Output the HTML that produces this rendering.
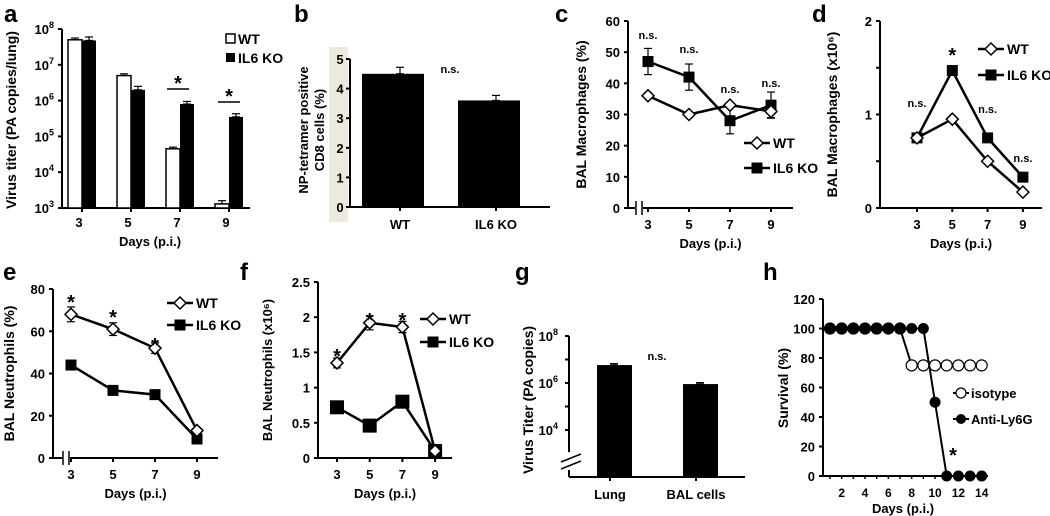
<!DOCTYPE html>
<html><head><meta charset="utf-8">
<style>
html,body{margin:0;padding:0;background:#fff;}
svg{display:block;font-family:"Liberation Sans",Arial,sans-serif;font-weight:bold;}
</style></head>
<body>
<svg id="fig" width="1050" height="516" viewBox="0 0 1050 516" xmlns="http://www.w3.org/2000/svg"></svg>
<script>
// ---- data ----
const daysA = [3,5,7,9];
const aWT = [5e7,5e6,4.5e4,1.3e3];
const aKO = [4.8e7,2e6,8e5,3.5e5];
const aWTerr = [0.6e7,0.6e6,0.5e4,0.3e3];
const aKOerr = [1.2e7,0.5e6,1.5e5,0.8e5];
const bCats = ["WT","IL6 KO"];
const bVals = [4.5,3.6];
const bErr = [0.22,0.17];
const cWT = [36,30,33,31];
const cKO = [47,42,28,33];
const cWTerr = [0,0,0,2];
const cKOerr = [4.2,4.2,4.2,4.2];
const dWT = [0.75,0.95,0.5,0.17];
const dKO = [0.75,1.47,0.75,0.33];
const eWT = [68,61,52,13];
const eKO = [44,32,30,9];
const eWTerr = [3.5,3,2.5,0];
const fWT = [1.35,1.92,1.86,0.1];
const fKO = [0.72,0.46,0.8,0.1];
const fWTerr = [0.07,0.1,0.08,0];
const gCats = ["Lung","BAL cells"];
const gVals = [5.8e6,9e5];
const hDays = [1,2,3,4,5,6,7,8,9,10,11,12,13,14];
const hIso = [100,100,100,100,100,100,100,75,75,75,75,75,75,75];
const hAnti = [100,100,100,100,100,100,100,100,100,50,0,0,0,0];
const hTicks = [2,4,6,8,10,12,14];

const S = document.getElementById('fig');
const NS = 'http://www.w3.org/2000/svg';
function el(tag, attrs, parent, text){
  const e = document.createElementNS(NS, tag);
  for (const k in attrs) e.setAttribute(k, attrs[k]);
  if (text !== undefined) e.textContent = text;
  (parent || S).appendChild(e);
  return e;
}
function grp(name){
  const g = el('g', {});
  
  
  return g;
}
function line(g,x1,y1,x2,y2,w){ return el('line',{x1,y1,x2,y2,stroke:'#000','stroke-width':w||2},g); }
function txt(g,x,y,s,size,anchor,extra){
  const t = el('text',Object.assign({x,y,'font-size':size||13,'text-anchor':anchor||'middle',fill:'#000'},extra||{}),g,s);
  return t;
}
function vtitle(g,x,y,s,size){
  return txt(g,x,y,s,size||13,'middle',{transform:`rotate(-90 ${x} ${y})`});
}
function letter(x,y,s){
  const g = grp('panel-label-'+s);
  txt(g,x,y,s,24,'start');
}
function diamond(g,x,y,r){ return el('polygon',{points:`${x},${y-r} ${x+r},${y} ${x},${y+r} ${x-r},${y}`,fill:'#fff',stroke:'#000','stroke-width':1.5},g); }
function square(g,x,y,r){ return el('rect',{x:x-r,y:y-r,width:2*r,height:2*r,fill:'#000'},g); }
function errbar(g,x,y1,y2){ line(g,x,y1,x,y2,1.2); line(g,x-4,y1,x+4,y1,1.2); line(g,x-4,y2,x+4,y2,1.2); }

// ---- panel a ----
(function(){
  const g = grp('panel-a');
  const x0=62, yTop=29, yBot=208, dec=(yBot-yTop)/5;
  const ys = v => yBot - (Math.log10(v)-3)*dec;
  const xs = i => 82 + i*49;
  line(g,x0,yTop,x0,yBot); line(g,x0,yBot,250,yBot);
  for(let p=3;p<=8;p++){
    const y=ys(Math.pow(10,p)); line(g,x0-4,y,x0,y);
    const t=txt(g,54,y+5,'10',13,'end');
    el('tspan',{dy:-6,'font-size':9},t,String(p));
  }
  daysA.forEach((d,i)=>{
    const c=xs(i);
    line(g,c,yBot,c,yBot+4);
    txt(g,c-3,227,String(d),13);
    const yw=ys(aWT[i]), yk=ys(aKO[i]);
    errbar(g,c-7,ys(aWT[i]+aWTerr[i]),yw);
    errbar(g,c+7,ys(aKO[i]+aKOerr[i]),yk);
    const b1=el('rect',{x:c-14,y:yw,width:14,height:yBot-yw,fill:'#fff',stroke:'#000','stroke-width':1.5},g);
    
    
    const b2=el('rect',{x:c,y:yk,width:14,height:yBot-yk,fill:'#000'},g);
    
    
  });
  line(g,167,89,189,89,1.5); txt(g,178,90,'*',20);
  line(g,218,102,240,102,1.5); txt(g,229,103,'*',20);
  txt(g,150,246,'Days (p.i.)',13);
  vtitle(g,16,120,'Virus titer (PA copies/lung)',14);
  el('rect',{x:226,y:34,width:9,height:9,fill:'#fff',stroke:'#000','stroke-width':1.5},g);
  txt(g,238,44,'WT',14,'start');
  el('rect',{x:226,y:53,width:9,height:9,fill:'#000'},g);
  txt(g,238,63,'IL6 KO',14,'start');
})();
letter(4,22,'a');

// ---- panel b ----
(function(){
  const g = grp('panel-b');
  const x0=350, yBot=207, per=29.6;
  const ys=v=>yBot-v*per;
  el('rect',{x:329,y:47,width:19,height:175,fill:'#ede9df'},g);
  line(g,x0,ys(5),x0,yBot); line(g,x0,yBot,550,yBot);
  for(let v=0;v<=5;v++){ line(g,x0-4,ys(v),x0,ys(v)); txt(g,340,ys(v)+5,String(v),13); }
  const cx=[392,488];
  bCats.forEach((c,i)=>{
    line(g,cx[i]+8,yBot,cx[i]+8,yBot+4);
    txt(g,cx[i]+8,229,c,13);
    errbar(g,cx[i]+8,ys(bVals[i]+bErr[i]),ys(bVals[i]));
    const r=el('rect',{x:cx[i]-30,y:ys(bVals[i]),width:62,height:bVals[i]*per,fill:'#000'},g);
    
    
  });
  txt(g,450,73,'n.s.',11);
  vtitle(g,308,130,'NP-tetramer positive',13);
  vtitle(g,324,130,'CD8 cells (%)',13);
})();
letter(294,22,'b');

// generic line panel
function linePanel(o){
  const g=grp(o.name);
  const ys=v=>o.yBot-(v-o.yMin)/(o.yMax-o.yMin)*(o.yBot-o.yTop);
  const xs=i=>o.x3+i*o.dx;
  line(g,o.x0,o.yTop,o.x0,o.yBot); line(g,o.x0,o.yBot,o.xEnd,o.yBot);
  if(o.brk){ el('rect',{x:o.brk-1,y:o.yBot-6,width:8,height:12,fill:'#fff'},g); line(g,o.brk,o.yBot-7,o.brk,o.yBot+7,1.5); line(g,o.brk+6,o.yBot-7,o.brk+6,o.yBot+7,1.5); }
  o.ticks.forEach(v=>{ line(g,o.x0-4,ys(v),o.x0,ys(v)); if(o.labels!==false || true){} });
  o.tickLabels.forEach((s,i)=>txt(g,o.x0-8,ys(o.ticks[i])+5,s,13,'end'));
  (o.minor||[]).forEach(v=>line(g,o.x0-4,ys(v),o.x0,ys(v)));
  daysA.forEach((d,i)=>{ line(g,xs(i),o.yBot,xs(i),o.yBot+4); txt(g,xs(i),o.yBot+21,String(d),13); });
  txt(g,(o.x0+o.xEnd)/2,o.yBot+40,'Days (p.i.)',13);
  const pts=(arr)=>arr.map((v,i)=>xs(i)+','+ys(v)).join(' ');
  const lk=el('polyline',{points:pts(o.ko),fill:'none',stroke:'#000','stroke-width':2.5},g);
   
  const lw=el('polyline',{points:pts(o.wt),fill:'none',stroke:'#000','stroke-width':2.5},g);
   
  if(o.koErr) o.ko.forEach((v,i)=>{ if(o.koErr[i]) errbar(g,xs(i),ys(v+o.koErr[i]),ys(v-o.koErr[i])); });
  if(o.wtErr) o.wt.forEach((v,i)=>{ if(o.wtErr[i]) errbar(g,xs(i),ys(v+o.wtErr[i]),ys(v-o.wtErr[i])); });
  o.ko.forEach((v,i)=>square(g,xs(i),ys(v),o.sq||5.5));
  o.wt.forEach((v,i)=>diamond(g,xs(i),ys(v),6));
  // legend
  line(g,o.lx,o.ly1,o.lx+26,o.ly1,2.5); diamond(g,o.lx+13,o.ly1,6); txt(g,o.lx+29,o.ly1+5,'WT',14,'start');
  line(g,o.lx,o.ly2,o.lx+26,o.ly2,2.5); square(g,o.lx+13,o.ly2,5.5); txt(g,o.lx+29,o.ly2+5,'IL6 KO',14,'start');
  (o.notes||[]).forEach(n=>txt(g,xs(n[0]),n[1],n[2],n[2]==='*'?20:11));
  vtitle(g,o.titleX,(o.yTop+o.yBot)/2,o.title,o.titleSize||14);
  return g;
}

linePanel({name:'panel-c',x0:628,yTop:21,yBot:208,yMin:0,yMax:60,x3:648,dx:41,xEnd:793,brk:636,
  ticks:[0,10,20,30,40,50,60],tickLabels:['0','10','20','30','40','50','60'],
  wt:cWT,ko:cKO,wtErr:cWTerr,koErr:cKOerr,lx:744,ly1:143,ly2:168,
  notes:[[0,39,'n.s.'],[1,53,'n.s.'],[2,93,'n.s.'],[3,87,'n.s.']],title:'BAL Macrophages (%)',titleX:586});
letter(555,22,'c');

(function(){
  const g=linePanel({name:'panel-d',x0:880,yTop:21,yBot:208,yMin:0,yMax:2,x3:917,dx:35.3,xEnd:1042,
    ticks:[0,1,2],tickLabels:['0','1','2'],minor:[0.5,1.5],
    wt:dWT,ko:dKO,lx:978,ly1:49,ly2:75,
    notes:[[0,107,'n.s.'],[1,62,'*'],[2,113,'n.s.'],[3,162,'n.s.']],title:'BAL Macrophages (x10⁶)',titleX:837});
})();
letter(812,22,'d');

linePanel({name:'panel-e',x0:53,yTop:289,yBot:458,yMin:0,yMax:80,x3:71,dx:42,xEnd:218,brk:63,
  ticks:[0,20,40,60,80],tickLabels:['0','20','40','60','80'],
  wt:eWT,ko:eKO,wtErr:eWTerr,lx:167,ly1:303,ly2:325,
  notes:[[0,309,'*'],[1,324,'*'],[2,352,'*']],title:'BAL Neutrophils (%)',titleX:14});
letter(3,280,'e');

linePanel({name:'panel-f',x0:318,yTop:282,yBot:458,yMin:0,yMax:2.5,x3:337,dx:32.7,xEnd:452,
  ticks:[0,0.5,1,1.5,2,2.5],tickLabels:['0','0.5','1','1.5','2','2.5'],
  wt:fWT,ko:fKO,wtErr:fWTerr,sq:7,lx:420,ly1:319,ly2:342,
  notes:[[0,363,'*'],[1,327,'*'],[2,327,'*']],title:'BAL Neutrophils (x10⁶)',titleX:272,titleSize:13});
letter(240,280,'f');

// ---- panel g ----
(function(){
  const g=grp('panel-g');
  const x0=569, yBot=477, dec=23.5;
  const ys=v=>yBot-(Math.log10(v)-2)*dec;
  line(g,x0,ys(1e8),x0,yBot); line(g,x0,yBot,745,yBot);
  for(let p=3;p<=8;p++){ line(g,x0-4,ys(Math.pow(10,p)),x0,ys(Math.pow(10,p))); }
  [8,6,4].forEach(p=>{ const t=txt(g,558,ys(Math.pow(10,p))+5,'10',13,'end'); el('tspan',{dy:-6,'font-size':9},t,String(p)); });
  el('rect',{x:560,y:452,width:22,height:18,fill:'#fff'},g);
  line(g,561,462,581,454,1.5); line(g,561,469,581,461,1.5);
  const cx=[614,700];
  gCats.forEach((c,i)=>{
    line(g,cx[i]-4,yBot,cx[i]-4,yBot+4);
    txt(g,cx[i]-4,499,c,13);
    errbar(g,cx[i],ys(gVals[i]*1.15),ys(gVals[i]));
    const r=el('rect',{x:cx[i]-17,y:ys(gVals[i]),width:35,height:yBot-ys(gVals[i]),fill:'#000'},g);
    
    
  });
  txt(g,657,360,'n.s.',11);
  vtitle(g,533,400,'Virus Titer (PA copies)',14);
})();
letter(515,280,'g');

// ---- panel h ----
(function(){
  const g=grp('panel-h');
  const x0=823, yBot=476, yTop=299;
  const ys=v=>yBot-v/120*(yBot-yTop);
  const xs=d=>830+(d-1)*11.67;
  line(g,x0,yTop,x0,yBot); line(g,x0,yBot,988,yBot);
  for(let v=0;v<=120;v+=20){ line(g,x0-4,ys(v),x0,ys(v)); txt(g,815,ys(v)+5,String(v),13,'end'); }
  hDays.forEach(d=>line(g,xs(d),yBot,xs(d),yBot+3,1.5));
  hTicks.forEach(d=>txt(g,xs(d),497,String(d),12));
  txt(g,903,513,'Days (p.i.)',13);
  const pts=a=>a.map((v,i)=>xs(hDays[i])+','+ys(v)).join(' ');
  const li=el('polyline',{points:pts(hIso),fill:'none',stroke:'#000','stroke-width':2},g);
   
  const la=el('polyline',{points:pts(hAnti),fill:'none',stroke:'#000','stroke-width':2},g);
   
  hIso.forEach((v,i)=>el('circle',{cx:xs(hDays[i]),cy:ys(v),r:5.5,fill:'#fff',stroke:'#000','stroke-width':1.2},g));
  hAnti.forEach((v,i)=>el('circle',{cx:xs(hDays[i]),cy:ys(v),r:5.5,fill:'#000'},g));
  txt(g,953,462,'*',20);
  line(g,953,393,969,393,2); el('circle',{cx:961,cy:393,r:5,fill:'#fff',stroke:'#000','stroke-width':1.2},g);
  txt(g,971,398,'isotype',13,'start');
  line(g,953,419,969,419,2); el('circle',{cx:961,cy:419,r:5,fill:'#000'},g);
  txt(g,971,424,'Anti-Ly6G',13,'start');
  vtitle(g,788,388,'Survival (%)',14);
})();
letter(763,280,'h');
</script>
</body></html>
